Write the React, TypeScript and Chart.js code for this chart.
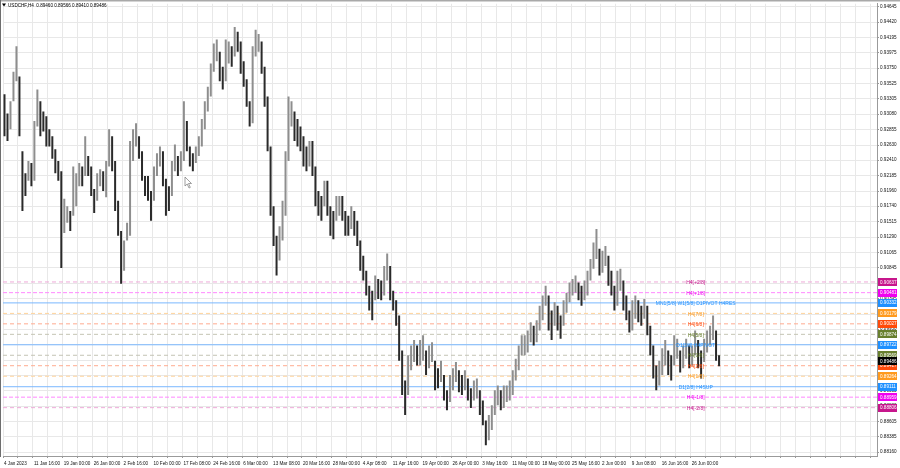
import { useEffect, useRef } from 'react';
import { Chart, registerables } from 'chart.js';

Chart.register(...registerables);

const HEADER = 'USDCHF,H4  0.89460 0.89566 0.89410 0.89486';

const TIME_LABELS = [
  '4 Jan 2023', '11 Jan 16:00', '19 Jan 00:00', '26 Jan 00:00', '2 Feb 16:00', '10 Feb 00:00',
  '17 Feb 08:00', '24 Feb 16:00', '6 Mar 00:00', '13 Mar 08:00', '20 Mar 16:00', '28 Mar 00:00',
  '4 Apr 08:00', '11 Apr 16:00', '19 Apr 00:00', '26 Apr 00:00', '3 May 16:00', '11 May 00:00',
  '18 May 00:00', '25 May 16:00', '2 Jun 00:00', '9 Jun 08:00', '16 Jun 16:00', '26 Jun 00:00',
];

const PRICE_TICKS = [
  0.94645, 0.9442, 0.94195, 0.93975, 0.9375, 0.93525, 0.93305, 0.9308, 0.92855, 0.9263,
  0.9241, 0.92185, 0.9196, 0.9174, 0.91515, 0.9129, 0.91065, 0.90845, 0.9062, 0.90395,
  0.9017, 0.8995, 0.89725, 0.895, 0.8928, 0.89055, 0.8883, 0.88605, 0.88385, 0.8816,
];

const HIGHS = [
  0.9337, 0.9309, 0.9327, 0.9370, 0.9407, 0.9363, 0.9254, 0.9222, 0.9240, 0.9237,
  0.9298, 0.9344, 0.9327, 0.9312, 0.9305, 0.9286, 0.9276, 0.9257, 0.9240, 0.9225,
  0.9185, 0.9174, 0.9167, 0.9232, 0.9222, 0.9237, 0.9232, 0.9276, 0.9247, 0.9232,
  0.9199, 0.9222, 0.9228, 0.9225, 0.9240, 0.9286, 0.9276, 0.9240, 0.9182, 0.9138,
  0.9124, 0.9150, 0.9269, 0.9286, 0.9295, 0.9276, 0.9254, 0.9218, 0.9218, 0.9196,
  0.9232, 0.9251, 0.9261, 0.9254, 0.9214, 0.9203, 0.9240, 0.9264, 0.9247, 0.9254,
  0.9327, 0.9298, 0.9261, 0.9251, 0.9261, 0.9276, 0.9301, 0.9327, 0.9348, 0.9382,
  0.9411, 0.9417, 0.9399, 0.9377, 0.9417, 0.9414, 0.9407, 0.9435, 0.9428, 0.9414,
  0.9385, 0.9359, 0.9327, 0.9407, 0.9431, 0.9425, 0.9414, 0.9377, 0.9334, 0.9261,
  0.9174, 0.9131, 0.9145, 0.9182, 0.9254, 0.9334, 0.9327, 0.9312, 0.9301, 0.9290,
  0.9276, 0.9261, 0.9269, 0.9269, 0.9232, 0.9196, 0.9189, 0.9211, 0.9211, 0.9174,
  0.9167, 0.9189, 0.9189, 0.9189, 0.9167, 0.9160, 0.9174, 0.9167, 0.9153, 0.9124,
  0.9102, 0.9080, 0.9058, 0.9051, 0.9073, 0.9068, 0.9066, 0.9087, 0.9105, 0.9087,
  0.9051, 0.9037, 0.9015, 0.8964, 0.8920, 0.8957, 0.8971, 0.8979, 0.8971, 0.8979,
  0.8986, 0.8964, 0.8971, 0.8976, 0.8949, 0.8938, 0.8949, 0.8928, 0.8906, 0.8928,
  0.8938, 0.8947, 0.8935, 0.8928, 0.8935, 0.8923, 0.8909, 0.8920, 0.8923, 0.8906,
  0.8891, 0.8862, 0.8870, 0.8884, 0.8906, 0.8913, 0.8906, 0.8913, 0.8913, 0.8920,
  0.8935, 0.8952, 0.8971, 0.8986, 0.8986, 0.8993, 0.9005, 0.9000, 0.9008, 0.9029,
  0.9044, 0.9058, 0.9044, 0.9022, 0.9034, 0.9029, 0.9015, 0.9037, 0.9048, 0.9063,
  0.9068, 0.9073, 0.9063, 0.9058, 0.9066, 0.9080, 0.9097, 0.9121, 0.9141, 0.9112,
  0.9109, 0.9116, 0.9102, 0.9080, 0.9058, 0.9080, 0.9083, 0.9066, 0.9044, 0.9022,
  0.9037, 0.9044, 0.9037, 0.9029, 0.9039, 0.9029, 0.9000, 0.8971, 0.8942, 0.8949,
  0.8967, 0.8979, 0.8964, 0.8957, 0.8986, 0.8981, 0.8964, 0.8971, 0.8981, 0.8971,
  0.8971, 0.8993, 0.8979, 0.8964, 0.8981, 0.8993, 0.9000, 0.9015, 0.8993, 0.8957,
];

const LOWS = [
  0.9276, 0.9269, 0.9286, 0.9327, 0.9356, 0.9276, 0.9167, 0.9189, 0.9211, 0.9203,
  0.9211, 0.9290, 0.9276, 0.9283, 0.9261, 0.9261, 0.9243, 0.9222, 0.9211, 0.9084,
  0.9135, 0.9150, 0.9138, 0.9160, 0.9174, 0.9203, 0.9203, 0.9218, 0.9218, 0.9189,
  0.9164, 0.9182, 0.9203, 0.9196, 0.9187, 0.9232, 0.9225, 0.9167, 0.9131, 0.9061,
  0.9080, 0.9124, 0.9131, 0.9240, 0.9261, 0.9243, 0.9211, 0.9189, 0.9182, 0.9153,
  0.9182, 0.9218, 0.9232, 0.9203, 0.9160, 0.9167, 0.9189, 0.9225, 0.9218, 0.9225,
  0.9240, 0.9254, 0.9232, 0.9225, 0.9237, 0.9247, 0.9261, 0.9286, 0.9312, 0.9334,
  0.9370, 0.9385, 0.9356, 0.9344, 0.9356, 0.9382, 0.9377, 0.9392, 0.9399, 0.9367,
  0.9348, 0.9319, 0.9290, 0.9295, 0.9392, 0.9399, 0.9367, 0.9319, 0.9254, 0.9160,
  0.9116, 0.9073, 0.9095, 0.9124, 0.9160, 0.9240, 0.9290, 0.9269, 0.9261, 0.9254,
  0.9232, 0.9225, 0.9232, 0.9218, 0.9174, 0.9160, 0.9153, 0.9174, 0.9160, 0.9131,
  0.9126, 0.9153, 0.9160, 0.9153, 0.9131, 0.9131, 0.9141, 0.9131, 0.9116, 0.9080,
  0.9066, 0.9044, 0.9022, 0.9008, 0.9037, 0.9039, 0.9037, 0.9044, 0.9066, 0.9037,
  0.9022, 0.9000, 0.8949, 0.8899, 0.8870, 0.8899, 0.8935, 0.8947, 0.8942, 0.8942,
  0.8949, 0.8928, 0.8938, 0.8947, 0.8906, 0.8909, 0.8918, 0.8891, 0.8877, 0.8889,
  0.8906, 0.8918, 0.8903, 0.8899, 0.8906, 0.8891, 0.8880, 0.8891, 0.8894, 0.8870,
  0.8855, 0.8826, 0.8833, 0.8848, 0.8870, 0.8884, 0.8877, 0.8880, 0.8889, 0.8891,
  0.8899, 0.8920, 0.8935, 0.8957, 0.8957, 0.8961, 0.8976, 0.8971, 0.8976, 0.8993,
  0.9008, 0.9029, 0.8993, 0.8979, 0.9000, 0.8993, 0.8981, 0.9000, 0.9019, 0.9034,
  0.9044, 0.9048, 0.9037, 0.9029, 0.9037, 0.9044, 0.9066, 0.9083, 0.9097, 0.9073,
  0.9077, 0.9087, 0.9058, 0.9044, 0.9022, 0.9029, 0.9051, 0.9022, 0.9008, 0.8990,
  0.8993, 0.9010, 0.9005, 0.9000, 0.9010, 0.8986, 0.8957, 0.8923, 0.8906, 0.8913,
  0.8928, 0.8942, 0.8928, 0.8920, 0.8942, 0.8952, 0.8932, 0.8938, 0.8952, 0.8938,
  0.8942, 0.8957, 0.8938, 0.8923, 0.8947, 0.8961, 0.8971, 0.8979, 0.8949, 0.8941,
];

const LEVEL_VALUES = [
  0.90637, 0.90481, 0.90332, 0.90179, 0.90027, 0.89874, 0.89722,
  0.89569, 0.89417, 0.89264, 0.89111, 0.88959, 0.88806,
];
const LEVEL_NAMES = [
  'H4[+2/8]', 'H4[+1/8]', 'MN1[5/8] W1[5/8] D1PIVOT H4RES', 'H4[7/8]', 'H4[6/8]', 'H4[5/8]',
  'D1[3/8] H4PIVOT', 'H4[3/8]', 'H4[2/8]', 'H4[1/8]', 'D1[2/8] H4SUP', 'H4[-1/8]', 'H4[-2/8]',
];
const CURRENT_PRICE = 0.89486;

// styles
const BOX_COLORS = [
  '#c7168c', '#f000f0', '#1e90ff', '#ff9a1e', '#ff4a0a', '#687f2e', '#1e90ff',
  '#687f2e', '#ff4a0a', '#ff9a1e', '#1e90ff', '#f000f0', '#c7168c',
];
const LINE_COLORS = [
  '#eeaad8', '#ff88ff', '#7ab8ff', '#ffd39a', '#ffab90', '#c4c4b4', '#7ab8ff',
  '#c4c4b4', '#ffab90', '#ffd39a', '#7ab8ff', '#ff88ff', '#eeaad8',
];
const LINE_DASH: number[][] = [
  [4, 3], [4, 2], [], [4, 3], [4, 3], [4, 3], [], [4, 3], [4, 3], [4, 3], [], [4, 2], [4, 3],
];

const FONT = '"Liberation Sans", Arial, sans-serif';
const PLOT_W = 877;
const X_MIN = -0.5;
const X_MAX = -0.5 + PLOT_W / 3;
const LABEL_X = 231.2;

const overlay = {
  id: 'overlay',
  afterDatasetsDraw(chart: any) {
    const { ctx, scales } = chart;
    const xs = scales.x;
    const ys = scales.y;
    ctx.save();
    ctx.font = `5px ${FONT}`;
    ctx.textAlign = 'center';
    ctx.textBaseline = 'middle';
    LEVEL_VALUES.forEach((v, i) => {
      ctx.fillStyle = BOX_COLORS[i];
      ctx.fillText(LEVEL_NAMES[i], xs.getPixelForValue(LABEL_X), ys.getPixelForValue(v) + 0.8);
    });
    // mouse cursor
    ctx.beginPath();
    ctx.moveTo(185, 177);
    ctx.lineTo(185, 186);
    ctx.lineTo(187.2, 184);
    ctx.lineTo(189, 188);
    ctx.lineTo(190.3, 187.4);
    ctx.lineTo(188.5, 183.5);
    ctx.lineTo(191.5, 183.5);
    ctx.closePath();
    ctx.fillStyle = '#fff';
    ctx.fill();
    ctx.strokeStyle = '#777';
    ctx.lineWidth = 0.7;
    ctx.stroke();
    ctx.restore();
  },
  afterDraw(chart: any) {
    const { ctx, scales } = chart;
    const ys = scales.y;
    ctx.save();
    ctx.font = `4.6px ${FONT}`;
    ctx.textAlign = 'left';
    ctx.textBaseline = 'middle';
    const box = (v: number, bg: string) => {
      const y = ys.getPixelForValue(v);
      ctx.fillStyle = bg;
      ctx.fillRect(878, Math.round(y) - 4, 19, 8);
      ctx.fillStyle = '#fff';
      ctx.fillText(v.toFixed(5), 880, y + 0.3);
    };
    LEVEL_VALUES.forEach((v, i) => box(v, BOX_COLORS[i]));
    box(CURRENT_PRICE, '#000');
    // frame
    ctx.fillStyle = '#a9a9a9';
    ctx.fillRect(0, 0, 900, 1.5);
    ctx.fillStyle = '#6e6e6e';
    ctx.fillRect(0, 0, 1, 457);
    // header
    ctx.fillStyle = '#000';
    ctx.beginPath();
    ctx.moveTo(2, 3.5);
    ctx.lineTo(6, 3.5);
    ctx.lineTo(4, 6.5);
    ctx.closePath();
    ctx.fill();
    ctx.font = `4.6px ${FONT}`;
    ctx.fillText(HEADER, 8, 5.3);
    ctx.restore();
  },
};

export default function App() {
  const ref = useRef<HTMLCanvasElement>(null);
  useEffect(() => {
    const barColors = HIGHS.map((h, i) => {
      if (i === 0) return '#2a2a2a';
      const m = (h + LOWS[i]) / 2;
      const pm = (HIGHS[i - 1] + LOWS[i - 1]) / 2;
      return m < pm ? '#2a2a2a' : '#8e8e8e';
    });
    const levelSets = LEVEL_VALUES.map((v, i) => ({
      type: 'line' as const,
      data: [{ x: X_MIN, y: v }, { x: X_MAX, y: v }],
      borderColor: LINE_COLORS[i],
      borderWidth: 1,
      borderDash: LINE_DASH[i],
      pointRadius: 0,
      fill: false,
      order: 2,
    }));
    const chart = new Chart(ref.current as HTMLCanvasElement, {
      type: 'bar',
      data: {
        datasets: [
          ...levelSets,
          {
            type: 'bar' as const,
            data: HIGHS.map((h, i) => ({ x: i, y: [LOWS[i], h] })) as any,
            backgroundColor: barColors,
            borderWidth: 0,
            barThickness: 2,
            inflateAmount: 0,
            order: 1,
          },
        ] as any,
      },
      options: {
        animation: false,
        responsive: false,
        devicePixelRatio: 1,
        layout: { padding: { top: 2, left: 0, right: 0, bottom: 0 } },
        plugins: { legend: { display: false }, tooltip: { enabled: false } },
        scales: {
          x: {
            type: 'linear',
            min: X_MIN,
            max: X_MAX,
            offset: false,
            afterFit: (s: any) => { s.height = 12; },
            afterBuildTicks: (s: any) => {
              const t = [];
              for (let k = 0; k <= 58; k++) t.push({ value: 5 * k - 0.5 });
              s.ticks = t;
            },
            grid: { color: '#e8e8e8', offset: false, tickLength: 2, tickColor: '#999' },
            border: { color: '#9a9a9a' },
            ticks: {
              autoSkip: false,
              maxRotation: 0,
              minRotation: 0,
              align: 'start',
              labelOffset: 1,
              padding: 3,
              color: '#111',
              font: { family: FONT, size: 4.6 },
              callback: (_v: any, i: number) => (i % 2 === 0 && TIME_LABELS[i / 2]) ? TIME_LABELS[i / 2] : '',
            },
          },
          y: {
            type: 'linear',
            position: 'right',
            min: 0.88102,
            max: 0.94689,
            afterFit: (s: any) => { s.width = 23; },
            afterBuildTicks: (s: any) => { s.ticks = PRICE_TICKS.map((v) => ({ value: v })); },
            grid: { color: '#e8e8e8', tickLength: 2, tickColor: '#999' },
            border: { color: '#9a9a9a' },
            ticks: {
              autoSkip: false,
              padding: 1,
              color: '#111',
              font: { family: FONT, size: 4.6 },
              callback: (v: any) => Number(v).toFixed(5),
            },
          },
        },
      } as any,
      plugins: [overlay],
    });
    return () => chart.destroy();
  }, []);
  return (
    <div style={{ position: 'fixed', left: 0, top: 0, width: 900, height: 468, background: '#fff' }}>
      <canvas ref={ref} width={900} height={468} style={{ display: 'block' }} />
    </div>
  );
}
